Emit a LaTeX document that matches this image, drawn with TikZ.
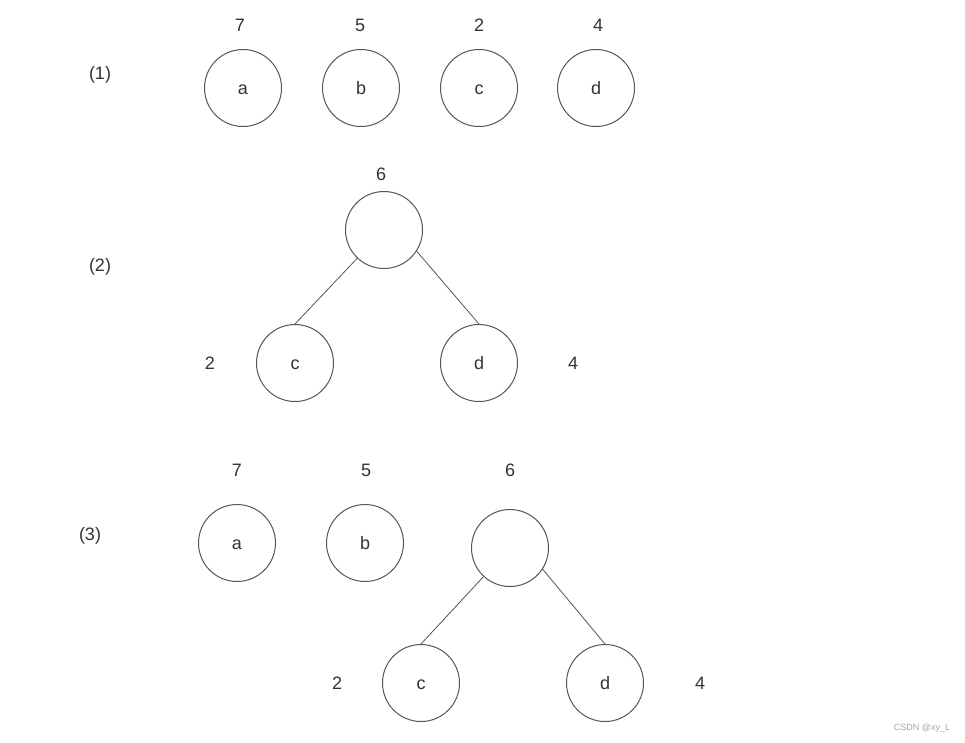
\documentclass[tikz,border=0pt]{standalone}
\usepackage{fontspec}
\setmainfont{Liberation Sans}
\usetikzlibrary{positioning}
\definecolor{edgegray}{HTML}{555555}
\definecolor{textgray}{HTML}{333333}

\begin{document}
\begin{tikzpicture}[
  x=1pt, y=-1pt,
  font=\fontsize{18}{21}\selectfont, text=textgray,
  vertex/.style={draw=edgegray, line width=1pt, circle, minimum size=77pt, inner sep=0pt,
                 text height=13pt, text depth=0pt},
  weight/.style={inner sep=0pt},
  steplabel/.style={inner sep=0pt},
  edge/.style={draw=edgegray, line width=0.8pt},
]
  \useasboundingbox[fill=white] (0,0) rectangle (965,742);

  % (1) four separate nodes
  \node[steplabel] (s1) at (100,75) {(1)};
  \node[vertex] (a1) at (243,88) {a};
  \node[vertex] (b1) at (361,88) {b};
  \node[vertex] (c1) at (479,88) {c};
  \node[vertex] (d1) at (596,88) {d};
  \node[weight] (wa1) at (240,25) {7};
  \node[weight] (wb1) at (360,25) {5};
  \node[weight] (wc1) at (479,25) {2};
  \node[weight] (wd1) at (598,25) {4};

  % (2) merge c and d
  \node[steplabel] (s2) at (100,267) {(2)};
  \node[vertex] (r2) at (384,230) {};
  \node[vertex] (c2) at (295,363) {c};
  \node[vertex] (d2) at (479,363) {d};
  \node[weight] (wr2) at (381,174) {6};
  \node[weight] (wc2) at (210,363) {2};
  \node[weight] (wd2) at (573,363) {4};
  \draw[edge] (r2) -- (c2.north);
  \draw[edge] (r2.-33) -- (d2.north);

  % (3) forest after the merge
  \node[steplabel] (s3) at (90,536) {(3)};
  \node[vertex] (a3) at (237,543) {a};
  \node[vertex] (b3) at (365,543) {b};
  \node[vertex] (r3) at (510,548) {};
  \node[vertex] (c3) at (421,683) {c};
  \node[vertex] (d3) at (605,683) {d};
  \node[weight] (wa3) at (237,470) {7};
  \node[weight] (wb3) at (366,470) {5};
  \node[weight] (wr3) at (510,470) {6};
  \node[weight] (wc3) at (337,683) {2};
  \node[weight] (wd3) at (700,683) {4};
  \draw[edge] (r3) -- (c3.north);
  \draw[edge] (r3.-33) -- (d3.north);

  \node[text=gray!70, font=\fontsize{9}{10}\selectfont] (mark) at (922,728) {CSDN @xy\_L};
\end{tikzpicture}
\end{document}
